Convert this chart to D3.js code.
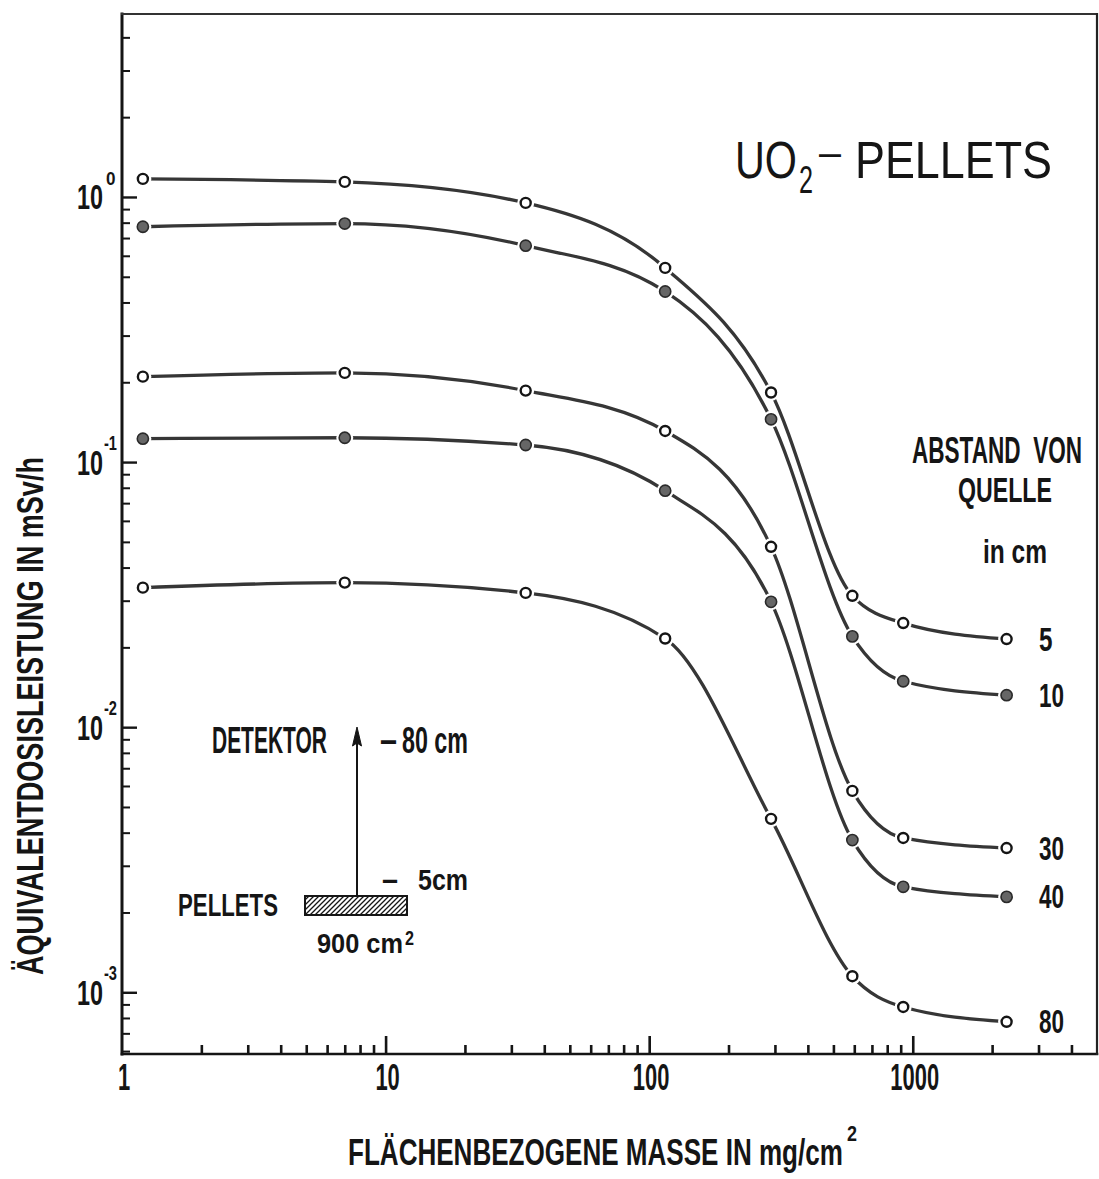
<!DOCTYPE html>
<html>
<head>
<meta charset="utf-8">
<script src="https://cdn.jsdelivr.net/npm/d3@7"></script>
<style>
  html, body { margin: 0; padding: 0; background: #fff; }
  svg { display: block; }
</style>
</head>
<body>
<svg id="chart" width="1099" height="1179"></svg>
<script>
// Areal mass of the absorber layer (mg/cm²) at which the dose rate was measured
const massPerArea = [1.2, 7, 34, 115, 290, 590, 920, 2270];

// Equivalent dose rate (mSv/h) for each source–detector distance
const dose5cm  = [1.17, 1.14, 0.95, 0.54, 0.183, 0.0313, 0.0247, 0.0215];
const dose10cm = [0.772, 0.794, 0.655, 0.44, 0.145, 0.0220, 0.0149, 0.0132];
const dose30cm = [0.210, 0.217, 0.186, 0.131, 0.0479, 0.00575, 0.00382, 0.0035];
const dose40cm = [0.1225, 0.1235, 0.116, 0.078, 0.0297, 0.00375, 0.0025, 0.00229];
const dose80cm = [0.0336, 0.0351, 0.0321, 0.0216, 0.00451, 0.00115, 0.00088, 0.000774];

const distanceLabels = ["5", "10", "30", "40", "80"];
const filledMarker   = [false, true, false, true, false];

const xTickLabels    = ["1", "10", "100", "1000"];
const yTickExponents = ["0", "-1", "-2", "-3"];

const seriesDose = [dose5cm, dose10cm, dose30cm, dose40cm, dose80cm];
const series = distanceLabels.map((lab, i) => ({
  label: lab,
  filled: filledMarker[i],
  points: massPerArea.map((m, j) => ({ m, d: seriesDose[i][j] }))
}));

const svg = d3.select("#chart");
const INK = "#151515";
const FONT = "'Liberation Sans', Arial, sans-serif";
const NBSP = "\u00a0";

// Plot frame
const plotLeft = 122, plotRight = 1097, plotTop = 14, plotBottom = 1054;

const x = d3.scaleLog().domain([1, 5000]).range([plotLeft, plotRight]);
const y = d3.scaleLog().domain([5.85e-4, 4.9]).range([plotBottom, plotTop]);

// Text condensed horizontally to a given width, sized by its cap height
function fitText(parent, str, x0, baseline, capHeight, width, opts = {}) {
  const t = parent.append("text")
    .attr("x", 0).attr("y", 0)
    .attr("font-family", FONT)
    .attr("font-weight", opts.weight || "bold")
    .attr("font-size", (capHeight / 0.688).toFixed(1))
    .attr("fill", opts.fill || INK)
    .text(str);
  const natural = t.node().getComputedTextLength() || width;
  t.attr("transform", `translate(${x0},${baseline}) scale(${(width / natural).toFixed(4)},1)`);
  return t;
}

const isDecade = v => Math.abs(Math.log10(v) - Math.round(Math.log10(v))) < 1e-9;

// ---- ticks (inward) ----
const xTicks = x.ticks().filter(v => v > 1 && v < 5000);
const yTicks = y.ticks().filter(v => y(v) < plotBottom - 2 && y(v) > plotTop + 2);

function styleAxis(g, w) {
  g.select(".domain").remove();
  g.selectAll("line").attr("stroke", INK).attr("stroke-width", w);
}

svg.append("g").attr("transform", `translate(0,${plotBottom})`)
  .call(d3.axisBottom(x).tickValues(xTicks.filter(v => !isDecade(v))).tickSize(-9).tickFormat(""))
  .call(g => styleAxis(g, 2.6));
svg.append("g").attr("transform", `translate(0,${plotBottom})`)
  .call(d3.axisBottom(x).tickValues(xTicks.filter(isDecade)).tickSize(-18).tickFormat(""))
  .call(g => styleAxis(g, 2.6));

svg.append("g").attr("transform", `translate(${plotLeft},0)`)
  .call(d3.axisLeft(y).tickValues(yTicks.filter(v => !isDecade(v))).tickSize(-8).tickFormat(""))
  .call(g => styleAxis(g, 2));
svg.append("g").attr("transform", `translate(${plotLeft},0)`)
  .call(d3.axisLeft(y).tickValues(yTicks.filter(isDecade)).tickSize(-15).tickFormat(""))
  .call(g => styleAxis(g, 2.4));

// ---- frame ----
const frame = svg.append("g").attr("fill", "none").attr("stroke-linecap", "square");
frame.append("line").attr("x1", plotLeft).attr("x2", plotLeft).attr("y1", plotTop).attr("y2", plotBottom)
  .attr("stroke", INK).attr("stroke-width", 3);
frame.append("line").attr("x1", plotLeft).attr("x2", plotRight).attr("y1", plotBottom).attr("y2", plotBottom)
  .attr("stroke", INK).attr("stroke-width", 2.6);
frame.append("line").attr("x1", plotLeft).attr("x2", plotRight).attr("y1", plotTop).attr("y2", plotTop)
  .attr("stroke", "#333").attr("stroke-width", 2);
frame.append("line").attr("x1", plotRight).attr("x2", plotRight).attr("y1", plotTop).attr("y2", plotBottom)
  .attr("stroke", "#222").attr("stroke-width", 2.2);

// ---- tick labels ----
const labels = svg.append("g");
xTickLabels.forEach(t => {
  const v = +t, w = 12.2 * t.length;
  fitText(labels, t, x(v) + 2 - w / 2, 1090, 25, w);
});
yTickExponents.forEach(e => {
  const ty = y(Math.pow(10, +e));
  fitText(labels, "10", 77, ty + 12.5, 24.5, 26);
  if (e === "0") fitText(labels, e, 106, ty - 12, 13, 9.5);
  else fitText(labels, e, 104, ty - 12, 14, 13);
});

// ---- axis titles ----
fitText(labels, "FLÄCHENBEZOGENE MASSE IN mg/cm", 348, 1165, 26, 495);
fitText(labels, "2", 847, 1141, 15, 10);
const yTitle = labels.append("g").attr("transform", "translate(43,975) rotate(-90)");
fitText(yTitle, "ÄQUIVALENTDOSISLEISTUNG IN mSv/h", 0, 0, 26, 518);

// ---- curves ----
const line = d3.line()
  .x(p => x(p.m))
  .y(p => y(p.d))
  .curve(d3.curveMonotoneX);

const curves = svg.append("g").attr("fill", "none");
series.forEach(s => {
  curves.append("path")
    .attr("d", line(s.points))
    .attr("stroke", "#363636")
    .attr("stroke-width", 3.3)
    .attr("stroke-linecap", "round");
});

// white gap around each marker, then the marker itself
const marks = svg.append("g");
series.forEach(s => {
  const g = marks.append("g");
  g.selectAll("circle.gap").data(s.points).join("circle")
    .attr("class", "gap")
    .attr("cx", p => x(p.m)).attr("cy", p => y(p.d))
    .attr("r", 8.5).attr("fill", "#fff");
  g.selectAll("circle.pt").data(s.points).join("circle")
    .attr("class", "pt")
    .attr("cx", p => x(p.m)).attr("cy", p => y(p.d))
    .attr("r", s.filled ? 5.6 : 5)
    .attr("fill", s.filled ? "#666" : "#fff")
    .attr("stroke", s.filled ? "#2a2a2a" : INK)
    .attr("stroke-width", s.filled ? 1.6 : 2.4);
});

// ---- distance labels at the curve ends ----
series.forEach(s => {
  const last = s.points[s.points.length - 1];
  const w = 12.5 * s.label.length + (s.label.length === 1 ? 1 : 0);
  fitText(labels, s.label, 1039, y(last.d) + 11.5, 23, w);
});

fitText(labels, "ABSTAND" + NBSP + NBSP + "VON", 912, 463, 25, 170);
fitText(labels, "QUELLE", 958, 502, 24, 94);
fitText(labels, "in cm", 983, 563, 22.5, 64);

// ---- title ----
fitText(labels, "UO", 735, 178, 36, 62, { weight: "normal" });
fitText(labels, "2", 799, 193, 27, 14, { weight: "normal" });
fitText(labels, "–", 819, 166, 29, 22, { weight: "normal" });
fitText(labels, "PELLETS", 855, 178, 36, 197, { weight: "normal" });

// ---- measuring geometry sketch ----
const sketch = svg.append("g");
const defs = svg.append("defs");
defs.append("pattern")
  .attr("id", "hatch").attr("patternUnits", "userSpaceOnUse")
  .attr("width", 5).attr("height", 5)
  .append("path")
  .attr("d", "M-1,6 L6,-1 M-2,2 L2,-2 M3,7 L7,3")
  .attr("stroke", INK).attr("stroke-width", 1.3);

sketch.append("rect")
  .attr("x", 305).attr("y", 896).attr("width", 102).attr("height", 19)
  .attr("fill", "url(#hatch)").attr("stroke", INK).attr("stroke-width", 2);

sketch.append("line")
  .attr("x1", 357).attr("x2", 357).attr("y1", 896).attr("y2", 740)
  .attr("stroke", INK).attr("stroke-width", 2);
sketch.append("path")
  .attr("d", "M357,727 L352.5,746 L357,743 L361.5,746 Z")
  .attr("fill", INK).attr("stroke", INK).attr("stroke-width", 1);

fitText(sketch, "DETEKTOR", 212, 753, 25, 115);
fitText(sketch, "–", 380, 752, 25, 17);
fitText(sketch, "80 cm", 402, 753, 25, 66);
fitText(sketch, "–", 382, 890, 22, 16);
fitText(sketch, "5cm", 418, 890, 20.5, 50);
fitText(sketch, "PELLETS", 178, 916, 21, 100);
fitText(sketch, "900 cm", 317, 953, 19, 86);
fitText(sketch, "2", 405, 945, 14, 9);
</script>
</body>
</html>
